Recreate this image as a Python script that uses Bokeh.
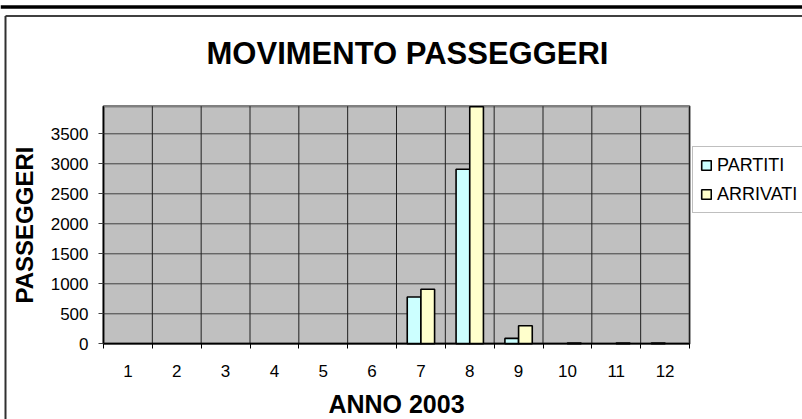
from bokeh.plotting import figure
from bokeh.models import (Range1d, FixedTicker, Legend, LegendItem, ColumnDataSource,
                          Label, Span)
from bokeh.transform import dodge
from bokeh.embed import file_html
from bokeh.resources import INLINE

# ---- data ----
months = [1, 2, 3, 4, 5, 6, 7, 8, 9, 10, 11, 12]
partiti = [0, 0, 0, 0, 0, 0, 780, 2910, 90, 0, 0, 12]
arrivati = [0, 0, 0, 0, 0, 0, 910, 3950, 300, 12, 12, 0]
month_labels = [str(m) for m in months]
y_ticks = [0, 500, 1000, 1500, 2000, 2500, 3000, 3500]
y_max = 3960  # top of the value axis

title_text = "MOVIMENTO PASSEGGERI"
x_title = "ANNO 2003"
y_title = "PASSEGGERI"
series_names = ["PARTITI", "ARRIVATI"]
colors = ["#CCFFFF", "#FFFFCC"]

FONT = "Liberation Sans"

# ---- layout (pixels) ----
W, H = 802, 419
PA_LEFT, PA_RIGHT, PA_BOTTOM = 103.0, 689.0, 343.3   # plot area in pixels
x_lo, x_hi = months[0] - 0.5, months[-1] + 0.5
PX_X = (PA_RIGHT - PA_LEFT) / (x_hi - x_lo)           # px per category
PX_Y = 0.06                                           # px per passenger


def xd(px):
    return x_lo + (px - PA_LEFT) / PX_X


def yd(py):
    return (PA_BOTTOM - py) / PX_Y


# empty (zero) bars are not outlined, as in the original
src = ColumnDataSource(dict(m=months, partiti=partiti, arrivati=arrivati,
                            a_p=[1 if v > 0 else 0 for v in partiti],
                            a_a=[1 if v > 0 else 0 for v in arrivati]))
first_p = next(i for i, v in enumerate(partiti) if v > 0)
first_a = next(i for i, v in enumerate(arrivati) if v > 0)

p = figure(width=W, height=H, output_backend="svg", toolbar_location=None,
           x_range=Range1d(xd(0), xd(W)), y_range=Range1d(yd(H), yd(0)),
           min_border=0, min_border_left=0, min_border_right=0,
           min_border_top=0, min_border_bottom=0)
p.title.visible = False
p.background_fill_color = "white"
p.border_fill_color = "white"
p.outline_line_color = None
p.grid.visible = False

boundaries = [m - 0.5 for m in months] + [months[-1] + 0.5]

# plot area background + gray shadow border
pa = p.quad(left=[x_lo], right=[x_hi], bottom=[0], top=[y_max],
            fill_color="#C0C0C0", line_color="#808080", line_width=2.5)
pa.level = "image"

# grid lines (from the tick arrays)
p.segment(x0=[x_lo] * len(y_ticks), x1=[x_hi] * len(y_ticks), y0=y_ticks, y1=y_ticks,
          line_color="#404040", line_width=1)
p.segment(x0=boundaries, x1=boundaries, y0=[0] * len(boundaries),
          y1=[y_max] * len(boundaries), line_color="#202020", line_width=1)

bw = 0.28
r1 = p.vbar(x=dodge("m", -bw / 2, range=p.x_range), top="partiti", width=bw, source=src,
            fill_color=colors[0], line_color="black", line_width=1.6, line_alpha="a_p")
r2 = p.vbar(x=dodge("m", bw / 2, range=p.x_range), top="arrivati", width=bw, source=src,
            fill_color=colors[1], line_color="black", line_width=1.6, line_alpha="a_a")

# x axis, fixed at value 0
xa = p.xaxis[0]
xa.fixed_location = 0
xa.bounds = (x_lo, x_hi)
xa.ticker = FixedTicker(ticks=months, minor_ticks=boundaries)
xa.major_label_overrides = {m: l for m, l in zip(months, month_labels)}
xa.major_tick_out = 0
xa.major_tick_in = 0
xa.minor_tick_out = 5
xa.minor_tick_in = 0
xa.minor_tick_line_color = "black"
xa.axis_line_color = "black"
xa.axis_line_width = 1.5
xa.major_label_text_font = FONT
xa.major_label_text_font_size = "17px"
xa.major_label_text_color = "black"
xa.major_label_standoff = 16
xa.axis_label = x_title
xa.axis_label_text_font = FONT
xa.axis_label_text_font_size = "25px"
xa.axis_label_text_font_style = "bold"
xa.axis_label_text_color = "black"
xa.axis_label_standoff = 10

# y axis, fixed at the left edge of the plot area
ya = p.yaxis[0]
ya.fixed_location = x_lo
ya.bounds = (0, y_max)
ya.ticker = FixedTicker(ticks=y_ticks)
ya.major_tick_out = 5
ya.major_tick_in = 0
ya.minor_tick_out = 0
ya.minor_tick_in = 0
ya.axis_line_color = "black"
ya.axis_line_width = 1.5
ya.major_tick_line_color = "#404040"
ya.major_label_text_font = FONT
ya.major_label_text_font_size = "17px"
ya.major_label_text_color = "black"
ya.major_label_standoff = 10
ya.axis_label = y_title
ya.axis_label_text_font = FONT
ya.axis_label_text_font_size = "24px"
ya.axis_label_text_font_style = "bold"
ya.axis_label_text_color = "black"
ya.axis_label_standoff = 10

# title
p.add_layout(Label(x=xd(407), y=yd(53), text=title_text, text_align="center",
                   text_baseline="middle", text_font=FONT, text_font_size="31px",
                   text_font_style="bold", text_color="black"))

# chart frame: black bar on top, dark frame lines
p.add_layout(Span(location=yd(6.5), dimension="width", line_color="black", line_width=3.5))
p.segment(x0=[xd(5)], x1=[xd(W + 5)], y0=[yd(15.5)], y1=[yd(15.5)],
          line_color="#404040", line_width=2)
p.segment(x0=[xd(5)], x1=[xd(5)], y0=[yd(15.5)], y1=[yd(H + 5)],
          line_color="#303030", line_width=2)

# legend
legend = Legend(items=[LegendItem(label=series_names[0], renderers=[r1], index=first_p),
                       LegendItem(label=series_names[1], renderers=[r2], index=first_a)],
                location=(692, H - 213), margin=0, padding=7, spacing=7,
                glyph_width=12, glyph_height=12, label_height=22, label_standoff=5,
                label_text_font=FONT, label_text_font_size="18px",
                label_text_color="black",
                border_line_color="#808080", border_line_width=1,
                background_fill_color="white")
p.add_layout(legend, "center")

open("out.html", "w").write(file_html(p, INLINE))
